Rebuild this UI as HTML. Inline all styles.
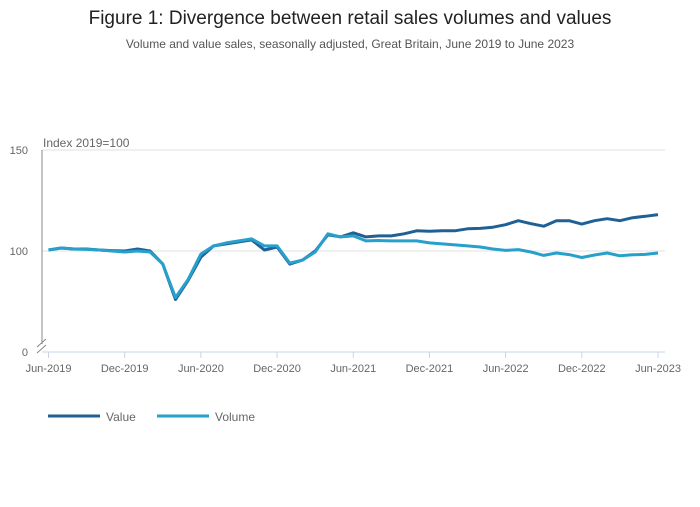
<!DOCTYPE html>
<html><head><meta charset="utf-8"><style>
body{margin:0;background:#fff;width:700px;height:502px;overflow:hidden;font-family:"Liberation Sans",sans-serif}
</style></head><body>
<svg id="c" width="700" height="502" xmlns="http://www.w3.org/2000/svg">
<text x="350" y="24" text-anchor="middle" font-size="19" fill="#222">Figure 1: Divergence between retail sales volumes and values</text>
<text x="350" y="48" text-anchor="middle" font-size="12" fill="#555">Volume and value sales, seasonally adjusted, Great Britain, June 2019 to June 2023</text>
<text x="43" y="147" font-size="12" fill="#666">Index 2019=100</text>
<g id="grid"></g><g id="axes"></g><g id="series"></g>
<g>
<g><line x1="48" y1="416" x2="100" y2="416" stroke="#206095" stroke-width="3"/><text x="106" y="421" font-size="12" fill="#666">Value</text></g>
<g><line x1="157" y1="416" x2="209" y2="416" stroke="#27a0cc" stroke-width="3"/><text x="215" y="421" font-size="12" fill="#666">Volume</text></g>
</g>
</svg>
<script>
const monthLabels=["Jun-2019","Dec-2019","Jun-2020","Dec-2020","Jun-2021","Dec-2021","Jun-2022","Dec-2022","Jun-2023"];
const valueSeries=[100.5,101.5,101,101,100.5,100.2,100,101,100,93.5,76,85.5,97,102.5,103.5,104.5,105.5,100.5,102,93.5,95.5,100,108,107,109,107,107.5,107.5,108.5,110,109.8,110,110,111,111.2,111.8,113,115,113.5,112.3,115,115,113.3,115,116,115,116.5,117.2,118];
const volumeSeries=[100.5,101.5,101,100.8,100.5,100,99.5,100,99.5,93.5,77,86,98.5,102.5,104,105,106,102.5,102.5,94,95.5,99.5,108.5,107,107.5,105,105.2,105,105,105,104,103.5,103,102.5,102,101,100.3,100.7,99.5,97.8,99,98.2,96.8,98,99,97.6,98.1,98.3,99];
const yTicks=[50,100,150];
const yTickLabels=["0","100","150"];
const NS="http://www.w3.org/2000/svg";
const x0=48.5,x1=658,yBase=352,yTop=150,vMin=50,vMax=150;
const xs=i=>x0+(x1-x0)*i/(valueSeries.length-1);
const ys=v=>yBase-(v-vMin)/(vMax-vMin)*(yBase-yTop);
function mk(tag,attrs,parent){const e=document.createElementNS(NS,tag);for(const k in attrs)e.setAttribute(k,attrs[k]);parent.appendChild(e);return e;}
const grid=document.getElementById('grid'),axes=document.getElementById('axes'),ser=document.getElementById('series');
yTicks.forEach((t,i)=>{
 if(t>vMin){const g=mk('line',{x1:42,x2:665,y1:ys(t),y2:ys(t),stroke:'#e0e0e0','stroke-width':1},grid);
 
 }
 const tx=mk('text',{x:28,y:ys(t)+4,'font-size':11,fill:'#666','text-anchor':'end'},axes);
 tx.textContent=yTickLabels[i];
 
 
});
const ya=mk('line',{x1:42,x2:42,y1:yTop,y2:yBase-8,stroke:'#888','stroke-width':1},axes);


const brk=mk('path',{d:'M37,347 L46,339 M37,353 L46,345',stroke:'#888','stroke-width':1,fill:'none'},axes);


const xa=mk('line',{x1:42,x2:665,y1:yBase,y2:yBase,stroke:'#c8d4e6','stroke-width':1},axes);


monthLabels.forEach((l,i)=>{
 const x=xs(i*6);
 const tk=mk('line',{x1:x,x2:x,y1:yBase,y2:yBase+6,stroke:'#c8d4e6'},axes);
 
 
 const t=mk('text',{x:x,y:yBase+20,'font-size':11,fill:'#666','text-anchor':'middle'},axes);
 t.textContent=l;
 
 
});
function line(arr,color,name){
 const d=arr.map((v,i)=>(i?'L':'M')+xs(i).toFixed(1)+','+ys(v).toFixed(1)).join(' ');
 const p=mk('path',{d:d,stroke:color,'stroke-width':3,fill:'none','stroke-linejoin':'round'},ser);
 
 
}
line(valueSeries,'#206095','value-line');
line(volumeSeries,'#27a0cc','volume-line');
</script>
</body></html>
